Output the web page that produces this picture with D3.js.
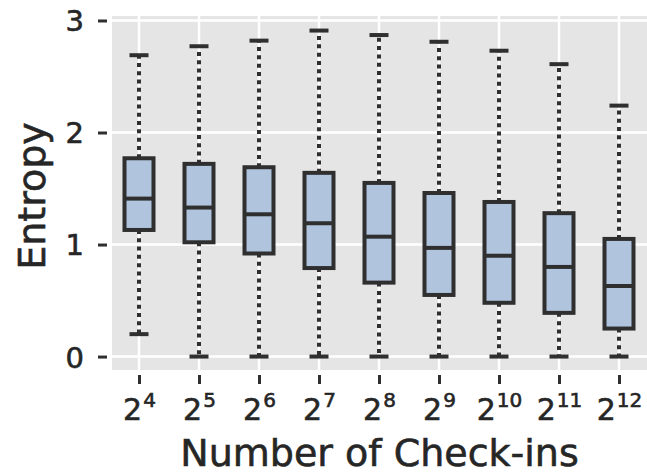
<!DOCTYPE html>
<html>
<head>
<meta charset="utf-8">
<script src="https://cdn.jsdelivr.net/npm/d3@7"></script>
<style>
  body { margin: 0; background: #fff; }
  svg text { font-family: "DejaVu Sans", sans-serif; fill: #262626; stroke: #262626; stroke-width: 0.6px; }
</style>
</head>
<body>
<svg id="chart" width="647" height="474"></svg>
<script>
// exponents of 2 on the x axis
const exponents = [4, 5, 6, 7, 8, 9, 10, 11, 12];
const whiskerLow = [0.20, 0, 0, 0, 0, 0, 0, 0, 0];
const q1 = [1.13, 1.02, 0.92, 0.79, 0.66, 0.55, 0.48, 0.39, 0.25];
const medians = [1.41, 1.33, 1.27, 1.19, 1.07, 0.97, 0.90, 0.80, 0.63];
const q3 = [1.77, 1.72, 1.69, 1.64, 1.55, 1.46, 1.38, 1.28, 1.05];
const whiskerHigh = [2.69, 2.77, 2.82, 2.91, 2.87, 2.81, 2.73, 2.61, 2.24];
const yTicks = [0, 1, 2, 3];

const PANEL = { left: 112, right: 647, top: 16, bottom: 370 };
const BOX_WIDTH = 29;
const CAP_WIDTH = 19;
const DARK = '#2f2f2f';

const svg = d3.select('#chart');

const x = d3.scalePoint()
  .domain(exponents)
  .range([PANEL.left + 27, PANEL.right - 28]);

const y = d3.scaleLinear()
  .domain([-0.12, 3.04])
  .range([PANEL.bottom, PANEL.top]);

// panel background
svg.append('rect')
  .attr('x', PANEL.left)
  .attr('y', PANEL.top)
  .attr('width', PANEL.right - PANEL.left)
  .attr('height', PANEL.bottom - PANEL.top)
  .attr('fill', '#e5e5e5');

// grid
svg.append('g')
  .selectAll('line')
  .data(yTicks)
  .join('line')
  .attr('x1', PANEL.left)
  .attr('x2', PANEL.right)
  .attr('y1', d => y(d))
  .attr('y2', d => y(d))
  .attr('stroke', '#fff')
  .attr('stroke-width', 2.5);

svg.append('g')
  .selectAll('line')
  .data(exponents)
  .join('line')
  .attr('x1', d => x(d))
  .attr('x2', d => x(d))
  .attr('y1', PANEL.top)
  .attr('y2', PANEL.bottom)
  .attr('stroke', '#fff')
  .attr('stroke-width', 2.5);

// y axis
const yAxis = svg.append('g')
  .attr('transform', `translate(${PANEL.left - 5},0)`)
  .call(d3.axisLeft(y).tickValues(yTicks).tickSize(9).tickPadding(14).tickFormat(d3.format('d')));
yAxis.select('.domain').remove();
yAxis.selectAll('.tick line').attr('stroke', DARK).attr('stroke-width', 3);
yAxis.selectAll('.tick text')
  .attr('font-size', 29)
  .attr('dy', '0.36em');

// x axis
const xAxis = svg.append('g')
  .attr('transform', `translate(0,${PANEL.bottom + 5})`)
  .call(d3.axisBottom(x).tickSize(9).tickFormat(''));
xAxis.select('.domain').remove();
xAxis.selectAll('.tick line').attr('stroke', DARK).attr('stroke-width', 3);

const xLabels = xAxis.selectAll('.tick')
  .append('text')
  .attr('y', 45)
  .attr('text-anchor', 'middle');
xLabels.append('tspan')
  .attr('font-size', 30)
  .text('2');
xLabels.append('tspan')
  .attr('font-size', 20)
  .attr('dy', -13)
  .attr('dx', 1)
  .text(d => d);

// axis titles
svg.append('text')
  .attr('x', (PANEL.left + PANEL.right) / 2)
  .attr('y', 466)
  .attr('text-anchor', 'middle')
  .attr('font-size', 38)
  .text('Number of Check-ins');

svg.append('text')
  .attr('transform', 'translate(45,196) rotate(-90)')
  .attr('text-anchor', 'middle')
  .attr('font-size', 38)
  .text('Entropy');

// boxes
const boxes = svg.append('g')
  .selectAll('g')
  .data(exponents.map((e, i) => ({
    e, lo: whiskerLow[i], q1: q1[i], med: medians[i], q3: q3[i], hi: whiskerHigh[i]
  })))
  .join('g');

boxes.append('line')
  .attr('x1', d => x(d.e)).attr('x2', d => x(d.e))
  .attr('y1', d => y(d.q3)).attr('y2', d => y(d.hi))
  .attr('stroke', DARK).attr('stroke-width', 4)
  .attr('stroke-dasharray', '4,4.3');

boxes.append('line')
  .attr('x1', d => x(d.e)).attr('x2', d => x(d.e))
  .attr('y1', d => y(d.q1)).attr('y2', d => y(d.lo))
  .attr('stroke', DARK).attr('stroke-width', 4)
  .attr('stroke-dasharray', '4,4.3');

boxes.selectAll('.cap')
  .data(d => [{ e: d.e, v: d.lo }, { e: d.e, v: d.hi }])
  .join('line')
  .attr('class', 'cap')
  .attr('x1', d => x(d.e) - CAP_WIDTH / 2)
  .attr('x2', d => x(d.e) + CAP_WIDTH / 2)
  .attr('y1', d => y(d.v)).attr('y2', d => y(d.v))
  .attr('stroke', DARK).attr('stroke-width', 4);

boxes.append('rect')
  .attr('x', d => x(d.e) - BOX_WIDTH / 2)
  .attr('width', BOX_WIDTH)
  .attr('y', d => y(d.q3))
  .attr('height', d => y(d.q1) - y(d.q3))
  .attr('fill', '#b0c4de')
  .attr('stroke', DARK)
  .attr('stroke-width', 4);

boxes.append('line')
  .attr('x1', d => x(d.e) - BOX_WIDTH / 2)
  .attr('x2', d => x(d.e) + BOX_WIDTH / 2)
  .attr('y1', d => y(d.med)).attr('y2', d => y(d.med))
  .attr('stroke', DARK).attr('stroke-width', 4);
</script>
</body>
</html>
